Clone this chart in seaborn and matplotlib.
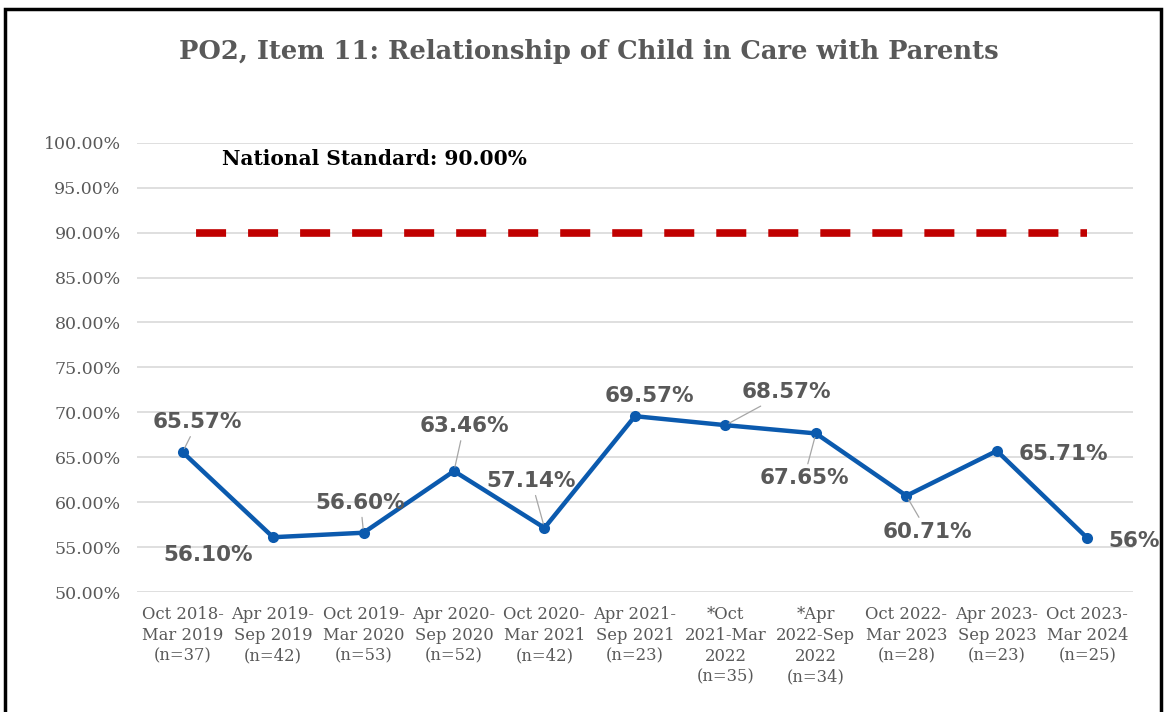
import matplotlib
matplotlib.use("Agg")
import matplotlib.pyplot as plt
import seaborn as sns
import pandas as pd
from matplotlib.patches import Rectangle

categories = ["Oct 2018-\nMar 2019\n(n=37)", "Apr 2019-\nSep 2019\n(n=42)", "Oct 2019-\nMar 2020\n(n=53)",
              "Apr 2020-\nSep 2020\n(n=52)", "Oct 2020-\nMar 2021\n(n=42)", "Apr 2021-\nSep 2021\n(n=23)",
              "*Oct\n2021-Mar\n2022\n(n=35)", "*Apr\n2022-Sep\n2022\n(n=34)", "Oct 2022-\nMar 2023\n(n=28)",
              "Apr 2023-\nSep 2023\n(n=23)", "Oct 2023-\nMar 2024\n(n=25)"]
values = [65.57, 56.10, 56.60, 63.46, 57.14, 69.57, 68.57, 67.65, 60.71, 65.71, 56.0]
labels = ["65.57%", "56.10%", "56.60%", "63.46%", "57.14%", "69.57%", "68.57%", "67.65%", "60.71%", "65.71%", "56%"]
standard = [90.0] * len(categories)
y_ticks = [50, 55, 60, 65, 70, 75, 80, 85, 90, 95, 100]

# label offsets in pixels (dx, dy) and whether a leader line is drawn
offsets = [(15, 30), (-65, -18), (-3, 30), (10, 45), (-13, 47), (14, 20), (61, 33), (-12, -45), (21, -36), (67, -3), (47, -3)]
leaders = [True, False, True, True, True, False, True, True, True, False, False]

sns.set_theme(style="white")
plt.rcParams["font.family"] = ["DejaVu Sans"]

fig = plt.figure(figsize=(11.64, 7.12), dpi=100)
ax = fig.add_axes([0.118, 0.1685, 0.855, 0.631])

df = pd.DataFrame({"cat": categories, "val": values, "std": standard, "x": range(len(categories))})

sns.lineplot(data=df, x="x", y="std", ax=ax, color="#C00000", linewidth=5.5,
             dashes=False, zorder=2)
ax.lines[-1].set_linestyle((5.1, (3.93, 2.88)))
ax.lines[-1].set_dash_capstyle("butt")
sns.lineplot(data=df, x="x", y="val", ax=ax, color="#0B5AAE", linewidth=3.2,
             marker="o", markersize=8, markeredgewidth=0, zorder=3)

ax.set_xlim(-0.5, len(categories) - 0.5)
ax.set_ylim(50, 100)
ax.set_yticks(y_ticks)
ax.set_yticklabels([f"{v:.2f}%" for v in y_ticks], family="DejaVu Serif", fontsize=12.5, color="#595959")
ax.set_xticks(range(len(categories)))
ax.set_xticklabels(categories, family="DejaVu Serif", fontsize=11.8, color="#595959", linespacing=1.3, va="top")
ax.tick_params(axis="x", length=0, pad=10)
ax.tick_params(axis="y", length=0, pad=12)
ax.set_xlabel("")
ax.set_ylabel("")
ax.grid(axis="y", color="#d9d9d9", linewidth=1.2)
ax.set_axisbelow(True)
for s in ax.spines.values():
    s.set_visible(False)

for i, (v, lab) in enumerate(zip(values, labels)):
    dx, dy = offsets[i]
    ap = dict(arrowstyle="-", color="#a6a6a6", lw=0.9, shrinkA=1, shrinkB=3) if leaders[i] else None
    ax.annotate(lab, xy=(i, v), xytext=(dx, dy), textcoords="offset pixels",
                ha="center", va="center", fontsize=15.5, fontweight="bold", color="#595959",
                arrowprops=ap, zorder=4)

ax.text(0.44, 98.2, "National Standard: 90.00%", fontsize=14.5, fontweight="bold",
        family="DejaVu Serif", color="black", ha="left", va="center")

fig.text(0.506, 0.928, "PO2, Item 11: Relationship of Child in Care with Parents",
         ha="center", va="center", fontsize=18.5, fontweight="bold", family="DejaVu Serif", color="#595959")

fig.patches.append(Rectangle((0.004, -0.05), 0.993, 1.038, transform=fig.transFigure,
                             fill=False, edgecolor="black", linewidth=2.5))

fig.savefig("out.png", dpi=100)
